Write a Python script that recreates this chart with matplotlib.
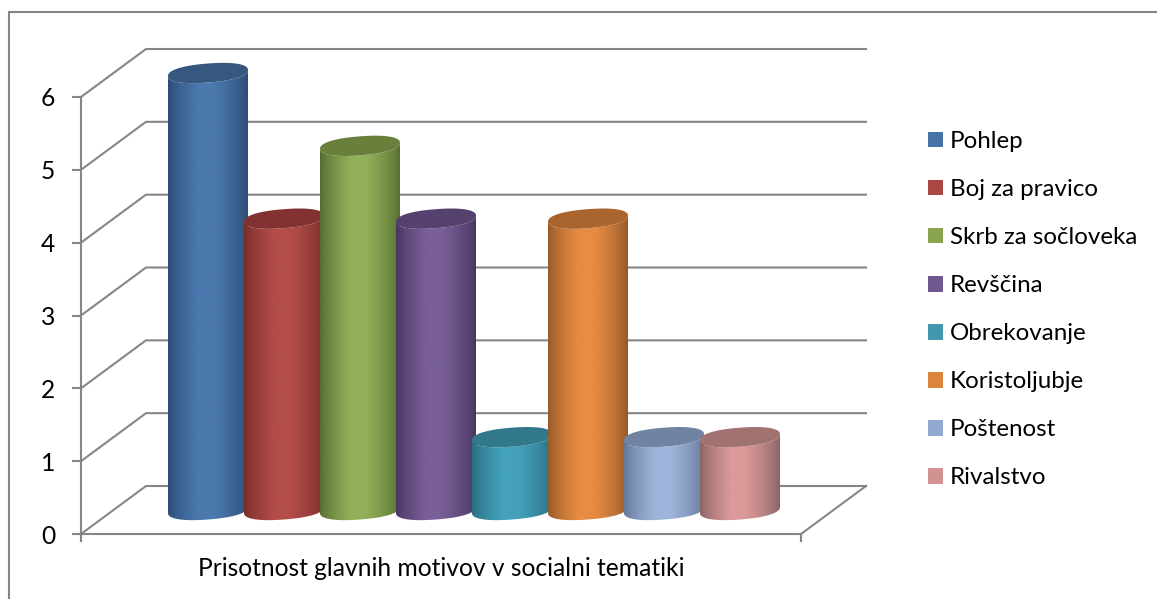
"""3D-look cylinder chart of motif counts in social themes."""

import matplotlib
matplotlib.use("Agg")
import matplotlib.pyplot as plt
import numpy as np
from matplotlib.patches import PathPatch, Patch, Rectangle
from matplotlib.path import Path

labels = ["Pohlep", "Boj za pravico", "Skrb za sočloveka", "Revščina",
          "Obrekovanje", "Koristoljubje", "Poštenost", "Rivalstvo"]
values = [6, 4, 5, 4, 1, 4, 1, 1]
yticks = [0, 1, 2, 3, 4, 5, 6]
category = "Prisotnost glavnih motivov v socialni tematiki"

# base colour, bright middle of the body, dark edge left/right, top cap
legend_colors = ["#4572a7", "#aa4643", "#89a54e", "#71588f",
                 "#4198af", "#db843d", "#93a9cf", "#d19392"]
mid_colors = ["#4a79ae", "#b34d4a", "#92b059", "#795e99",
              "#43a2ba", "#e88c42", "#9eb4da", "#db9999"]
edge_colors = ["#2d4d75", "#772c2a", "#556b30", "#47365f",
               "#2a6d80", "#96592a", "#63789b", "#8a6363"]
cap_colors = ["#36587f", "#843231", "#6a7f3b", "#54416e",
              "#30788a", "#a9652d", "#7083a3", "#a07270"]

W, H = 1157, 599
plt.rcParams["font.family"] = ["Lato", "DejaVu Sans"]
GREY = "#868686"
FS = 17.7

fig = plt.figure(figsize=(W / 100, H / 100), dpi=100)
# the axes is the front plane of the box: one category across, values upwards
ax = fig.add_axes([81 / W, 1 - 534 / H, 720 / W, 437 / H])
ax.set_xlim(0, 1)
ax.set_ylim(0, 6)
ax.patch.set_visible(False)
px_x = 1 / 720          # x units per pixel
px_y = 6 / 437          # y units per pixel
depth_x, depth_y = 65 * px_x, 48 * px_y

for s in ["top", "right"]:
    ax.spines[s].set_visible(False)
for s in ["left", "bottom"]:
    ax.spines[s].set_color(GREY)
    ax.spines[s].set_linewidth(1.5)
ax.set_yticks(yticks)
ax.set_xticks([0, 1])
ax.set_xticklabels(["", ""])
ax.tick_params(axis="y", length=6.5, width=1.5, color=GREY, labelsize=FS, pad=12, labelcolor="black")
ax.tick_params(axis="x", length=6, width=1.5, color=GREY)
ax.text(0.5, -34 / 437, category, transform=ax.transAxes, ha="center", va="center",
        fontsize=FS, color="black")

# back wall gridlines and the slanted lines on the side wall
for v in yticks:
    ax.plot([0, depth_x, 1 + depth_x], [v, v + depth_y, v + depth_y], color=GREY,
            lw=1.5, clip_on=False, zorder=1, solid_joinstyle="miter")
ax.plot([1, 1 + depth_x], [0, depth_y], color=GREY, lw=1.5, clip_on=False, zorder=1)

# cylinders stand in the middle of the floor depth
step = 76 * px_x
half = 40 * px_x
rise = 3 * px_y
minor = 9.5 * px_y
start = 0.5 + depth_x / 2 - step * (len(values) - 1) / 2 + 0.5 * px_x
base_y = depth_y / 2
t_low = np.linspace(np.pi, 2 * np.pi, 60)
t_full = np.linspace(0, 2 * np.pi, 120)


def ellipse(cx, cy, t):
    # slightly squared-off ellipse, tilted up to the right
    c = np.sign(np.cos(t)) * np.abs(np.cos(t)) ** 0.88
    s = np.sign(np.sin(t)) * np.abs(np.sin(t)) ** 0.88
    return cx + half * c, cy + rise * c + minor * s


for i, v in enumerate(values):
    cx = start + i * step
    top = base_y + v
    bx, by = ellipse(cx, base_y, t_low)
    tx, ty = ellipse(cx, top, t_low[::-1])
    verts = np.vstack([np.column_stack([bx, by]), np.column_stack([tx, ty]), [[bx[0], by[0]]]])
    codes = [Path.MOVETO] + [Path.LINETO] * (len(verts) - 2) + [Path.CLOSEPOLY]
    outline = PathPatch(Path(verts, codes), transform=ax.transData, fc="none", ec="none")
    ax.add_patch(outline)

    # horizontal shading across the body
    c_edge = np.array(matplotlib.colors.to_rgb(edge_colors[i]))
    c_mid = np.array(matplotlib.colors.to_rgb(mid_colors[i]))
    u = np.linspace(0, 1, 80)
    w = np.interp(u, [0, 0.38, 0.58, 1], [0, 1, 1, 0]) ** 0.75
    strip = (c_edge[None, :] * (1 - w[:, None]) + c_mid[None, :] * w[:, None])[None, :, :]
    im = ax.imshow(strip, extent=[cx - half, cx + half, base_y - minor - rise, top + minor + rise],
                   aspect="auto", origin="lower", zorder=3 + i, interpolation="bilinear")
    im.set_clip_box(fig.bbox)
    im.set_clip_path(outline)

    cap_x, cap_y = ellipse(cx, top, t_full)
    ax.fill(cap_x, cap_y, color=cap_colors[i], lw=0, zorder=3 + i, clip_on=False)
ax.set_xlim(0, 1)
ax.set_ylim(0, 6)

handles = [Patch(fc=c, ec="none") for c in legend_colors]
fig.legend(handles, labels, loc="upper left", bbox_to_anchor=(928 / W, 1 - 131 / H), frameon=False,
           fontsize=17.4, labelspacing=1.12, handlelength=0.62, handleheight=0.62, handletextpad=0.27,
           borderpad=0, borderaxespad=0)

# chart frame, running past the bottom and right of the canvas
fig.add_artist(Rectangle((9 / W, -0.05), 1.2, 1 - 12 / H + 0.05, transform=fig.transFigure,
                         fc="none", ec=GREY, lw=1.5))

fig.savefig("out.png", dpi=100)
